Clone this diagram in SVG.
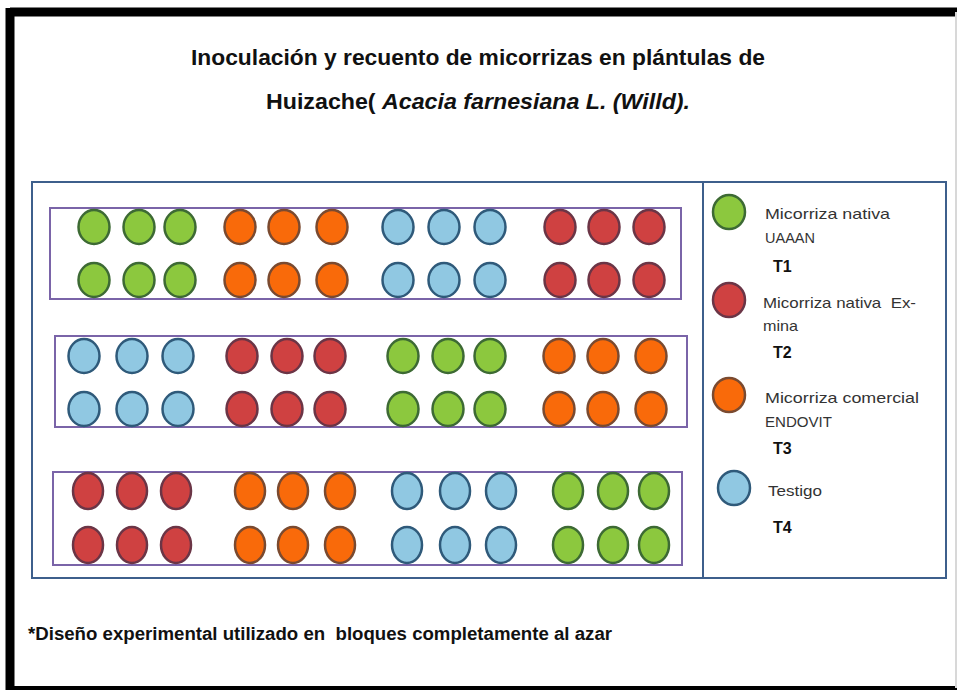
<svg xmlns="http://www.w3.org/2000/svg" width="960" height="691" viewBox="0 0 960 691">
<style>
.t{font-family:"Liberation Sans",Arial,sans-serif;fill:#111;font-weight:bold;white-space:pre}
.lg{font-family:"Liberation Sans",Arial,sans-serif;fill:#333;font-size:15px;white-space:pre}
.tb{font-family:"Liberation Sans",Arial,sans-serif;fill:#111;font-size:16px;font-weight:bold}
.blk{fill:none;stroke:#7a64a8;stroke-width:2}
.g{fill:#8cc83e;stroke:#3d6a34;stroke-width:2.5}
.o{fill:#f96a0a;stroke:#7a4a30;stroke-width:2.5}
.b{fill:#90c8e2;stroke:#2f5a7a;stroke-width:2.5}
.r{fill:#cf4141;stroke:#6b3546;stroke-width:2.5}
</style>
<rect width="960" height="691" fill="#fff"/>
<g id="frame">
<line x1="10" y1="12" x2="957" y2="12" stroke="#000" stroke-width="9"/>
<line x1="10" y1="8" x2="10" y2="690" stroke="#000" stroke-width="9"/>
<line x1="6" y1="688" x2="957" y2="688" stroke="#000" stroke-width="4"/>
<line x1="956" y1="12" x2="956" y2="688" stroke="#d8d8d8" stroke-width="2"/>
</g>
<g id="title">
<text class="t" x="478" y="65" font-size="22" text-anchor="middle" textLength="574" lengthAdjust="spacingAndGlyphs">Inoculación y recuento de micorrizas en plántulas de</text>
<text class="t" x="478" y="109" font-size="22" text-anchor="middle" textLength="424" lengthAdjust="spacingAndGlyphs">Huizache( <tspan font-style="italic">Acacia farnesiana L. (Willd).</tspan></text>
</g>
<g id="panel">
<rect x="32" y="182" width="914" height="396" fill="none" stroke="#3d5f8c" stroke-width="2"/>
<line x1="703" y1="182" x2="703" y2="578" stroke="#3d5f8c" stroke-width="2"/>
</g>
<g id="block1">
<rect class="blk" x="50" y="208" width="631" height="91"/>
<ellipse class="g" cx="94" cy="227" rx="15.5" ry="17"/><ellipse class="g" cx="139" cy="227" rx="15.5" ry="17"/><ellipse class="g" cx="180" cy="227" rx="15.5" ry="17"/>
<ellipse class="o" cx="240" cy="227" rx="15.5" ry="17"/><ellipse class="o" cx="284" cy="227" rx="15.5" ry="17"/><ellipse class="o" cx="332" cy="227" rx="15.5" ry="17"/>
<ellipse class="b" cx="398" cy="227" rx="15.5" ry="17"/><ellipse class="b" cx="444" cy="227" rx="15.5" ry="17"/><ellipse class="b" cx="490" cy="227" rx="15.5" ry="17"/>
<ellipse class="r" cx="560" cy="227" rx="15.5" ry="17"/><ellipse class="r" cx="604" cy="227" rx="15.5" ry="17"/><ellipse class="r" cx="649" cy="227" rx="15.5" ry="17"/>
<ellipse class="g" cx="94" cy="280" rx="15.5" ry="17"/><ellipse class="g" cx="139" cy="280" rx="15.5" ry="17"/><ellipse class="g" cx="180" cy="280" rx="15.5" ry="17"/>
<ellipse class="o" cx="240" cy="280" rx="15.5" ry="17"/><ellipse class="o" cx="284" cy="280" rx="15.5" ry="17"/><ellipse class="o" cx="332" cy="280" rx="15.5" ry="17"/>
<ellipse class="b" cx="398" cy="280" rx="15.5" ry="17"/><ellipse class="b" cx="444" cy="280" rx="15.5" ry="17"/><ellipse class="b" cx="490" cy="280" rx="15.5" ry="17"/>
<ellipse class="r" cx="560" cy="280" rx="15.5" ry="17"/><ellipse class="r" cx="604" cy="280" rx="15.5" ry="17"/><ellipse class="r" cx="649" cy="280" rx="15.5" ry="17"/>
</g>
<g id="block2">
<rect class="blk" x="55" y="336" width="632" height="91"/>
<ellipse class="b" cx="84" cy="356" rx="15.5" ry="17"/><ellipse class="b" cx="132" cy="356" rx="15.5" ry="17"/><ellipse class="b" cx="178" cy="356" rx="15.5" ry="17"/>
<ellipse class="r" cx="242" cy="356" rx="15.5" ry="17"/><ellipse class="r" cx="287" cy="356" rx="15.5" ry="17"/><ellipse class="r" cx="330" cy="356" rx="15.5" ry="17"/>
<ellipse class="g" cx="403" cy="356" rx="15.5" ry="17"/><ellipse class="g" cx="448" cy="356" rx="15.5" ry="17"/><ellipse class="g" cx="490" cy="356" rx="15.5" ry="17"/>
<ellipse class="o" cx="559" cy="356" rx="15.5" ry="17"/><ellipse class="o" cx="603" cy="356" rx="15.5" ry="17"/><ellipse class="o" cx="651" cy="356" rx="15.5" ry="17"/>
<ellipse class="b" cx="84" cy="409" rx="15.5" ry="17"/><ellipse class="b" cx="132" cy="409" rx="15.5" ry="17"/><ellipse class="b" cx="178" cy="409" rx="15.5" ry="17"/>
<ellipse class="r" cx="242" cy="409" rx="15.5" ry="17"/><ellipse class="r" cx="287" cy="409" rx="15.5" ry="17"/><ellipse class="r" cx="330" cy="409" rx="15.5" ry="17"/>
<ellipse class="g" cx="403" cy="409" rx="15.5" ry="17"/><ellipse class="g" cx="448" cy="409" rx="15.5" ry="17"/><ellipse class="g" cx="490" cy="409" rx="15.5" ry="17"/>
<ellipse class="o" cx="559" cy="409" rx="15.5" ry="17"/><ellipse class="o" cx="603" cy="409" rx="15.5" ry="17"/><ellipse class="o" cx="651" cy="409" rx="15.5" ry="17"/>
</g>
<g id="block3">
<rect class="blk" x="53" y="472" width="629" height="93"/>
<ellipse class="r" cx="88" cy="491" rx="15" ry="18"/><ellipse class="r" cx="132" cy="491" rx="15" ry="18"/><ellipse class="r" cx="176" cy="491" rx="15" ry="18"/>
<ellipse class="o" cx="250" cy="491" rx="15" ry="18"/><ellipse class="o" cx="293" cy="491" rx="15" ry="18"/><ellipse class="o" cx="340" cy="491" rx="15" ry="18"/>
<ellipse class="b" cx="407" cy="491" rx="15" ry="18"/><ellipse class="b" cx="455" cy="491" rx="15" ry="18"/><ellipse class="b" cx="501" cy="491" rx="15" ry="18"/>
<ellipse class="g" cx="568" cy="491" rx="15" ry="18"/><ellipse class="g" cx="613" cy="491" rx="15" ry="18"/><ellipse class="g" cx="654" cy="491" rx="15" ry="18"/>
<ellipse class="r" cx="88" cy="545" rx="15" ry="18"/><ellipse class="r" cx="132" cy="545" rx="15" ry="18"/><ellipse class="r" cx="176" cy="545" rx="15" ry="18"/>
<ellipse class="o" cx="250" cy="545" rx="15" ry="18"/><ellipse class="o" cx="293" cy="545" rx="15" ry="18"/><ellipse class="o" cx="340" cy="545" rx="15" ry="18"/>
<ellipse class="b" cx="407" cy="545" rx="15" ry="18"/><ellipse class="b" cx="455" cy="545" rx="15" ry="18"/><ellipse class="b" cx="501" cy="545" rx="15" ry="18"/>
<ellipse class="g" cx="568" cy="545" rx="15" ry="18"/><ellipse class="g" cx="613" cy="545" rx="15" ry="18"/><ellipse class="g" cx="654" cy="545" rx="15" ry="18"/>
</g>
<g id="legend-t1">
<ellipse class="g" cx="729" cy="212" rx="16" ry="17"/>
<text class="lg" x="765" y="219" textLength="125" lengthAdjust="spacingAndGlyphs">Micorriza nativa</text>
<text class="lg" x="765" y="243" textLength="50" lengthAdjust="spacingAndGlyphs">UAAAN</text>
<text class="tb" x="773" y="272">T1</text>
</g>
<g id="legend-t2">
<ellipse class="r" cx="729" cy="300" rx="16" ry="17"/>
<text class="lg" x="763" y="308" textLength="153" lengthAdjust="spacingAndGlyphs">Micorriza nativa  Ex-</text>
<text class="lg" x="763" y="331" textLength="35" lengthAdjust="spacingAndGlyphs">mina</text>
<text class="tb" x="773" y="358">T2</text>
</g>
<g id="legend-t3">
<ellipse class="o" cx="729" cy="395" rx="16" ry="17"/>
<text class="lg" x="765" y="403" textLength="154" lengthAdjust="spacingAndGlyphs">Micorriza comercial</text>
<text class="lg" x="765" y="427" textLength="67" lengthAdjust="spacingAndGlyphs">ENDOVIT</text>
<text class="tb" x="773" y="454">T3</text>
</g>
<g id="legend-t4">
<ellipse class="b" cx="734" cy="488" rx="16" ry="17"/>
<text class="lg" x="768" y="496" textLength="54" lengthAdjust="spacingAndGlyphs">Testigo</text>
<text class="tb" x="773" y="533">T4</text>
</g>
<g id="footer">
<text class="t" x="28" y="640" font-size="18" textLength="584" lengthAdjust="spacingAndGlyphs">*Diseño experimental utilizado en  bloques completamente al azar</text>
</g>
<g id="connectors"/>
</svg>
